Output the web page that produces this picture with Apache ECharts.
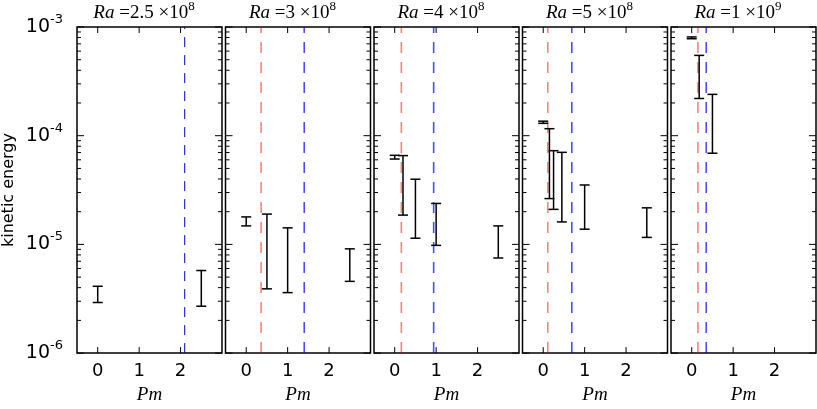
<!DOCTYPE html>
<html>
<head>
<meta charset="utf-8">
<script src="https://cdn.jsdelivr.net/npm/echarts@6/dist/echarts.min.js"></script>
<style>
html,body{margin:0;padding:0;background:#fff}
#main{width:817px;height:409px}
</style>
</head>
<body>
<div id="main"></div>
<script>
// panel titles: Ra = mant x 10^exp
var raMant = ['2.5', '3', '4', '5', '1'];
var raExp = ['8', '8', '8', '8', '9'];

// error bars per panel: [Pm, low, high]
var bars1 = [[0, 2.92e-6, 4.12e-6], [2.5, 2.7e-6, 5.75e-6]];
var bars2 = [[0, 1.48e-5, 1.79e-5], [0.5, 3.9e-6, 1.9e-5], [1, 3.6e-6, 1.42e-5], [2.5, 4.57e-6, 9.1e-6]];
var bars3 = [[0, 6.1e-5, 6.6e-5], [0.2, 1.86e-5, 6.56e-5], [0.5, 1.14e-5, 3.98e-5], [1, 9.8e-6, 2.38e-5], [2.5, 7.5e-6, 1.48e-5]];
var bars4 = [[0, 1.30e-4, 1.36e-4], [0.15, 2.64e-5, 1.16e-4], [0.25, 2.1e-5, 7.28e-5], [0.45, 1.61e-5, 7.03e-5], [1, 1.38e-5, 3.52e-5], [2.5, 1.16e-5, 2.17e-5]];
var bars5 = [[0, 7.8e-4, 8.1e-4], [0.18, 2.2e-4, 5.48e-4], [0.5, 6.9e-5, 2.4e-4]];
var allBars = [bars1, bars2, bars3, bars4, bars5];

// vertical dashed lines (Pm position), null = none
var redLines = [null, 0.36, 0.16, 0.11, 0.15];
var blueLines = [2.1, 1.40, 0.94, 0.69, 0.35];

// axis ticks
var xMin = -0.5, xMax = 3;
var xTicks = [0, 1, 2];
var yExps = [-6, -5, -4, -3];
var yMin = yExps[0], yMax = yExps[yExps.length - 1];

var minorTicks = [];
for (var e = yMin; e < yMax; e++) {
    for (var k = 2; k <= 9; k++) minorTicks.push(e + Math.log10(k));
}

// 刻度线数据: [x, y, 长度, 类型(0=y轴, 1=x轴)]
var tickData = [];
yExps.forEach(function (v) { tickData.push([xMin, v, 7, 0]); });
minorTicks.forEach(function (v) { tickData.push([xMin, v, 4, 0]); });
xTicks.forEach(function (v) { tickData.push([v, yMin, 6, 1]); });

var myChart = echarts.init(document.getElementById('main'));

//误差棒
function renderBar(params, api) {
    var x = api.value(0);
    var top = api.coord([x, api.value(2)]);
    var bot = api.coord([x, api.value(1)]);
    var w = 5;
    var st = {stroke: '#000', lineWidth: 1.5};
    return {
        type: 'group',
        children: [
            {type: 'line', shape: {x1: top[0], y1: top[1], x2: bot[0], y2: bot[1]}, style: st},
            {type: 'line', shape: {x1: top[0] - w, y1: top[1], x2: top[0] + w, y2: top[1]}, style: st},
            {type: 'line', shape: {x1: bot[0] - w, y1: bot[1], x2: bot[0] + w, y2: bot[1]}, style: st}
        ]
    };
}

//刻度线 (四边朝内)
function renderTick(params, api) {
    var len = api.value(2);
    var st = {stroke: '#000', lineWidth: 1};
    if (api.value(3) === 0) {
        var v = api.value(1);
        var pl = api.coord([xMin, v]), pr = api.coord([xMax, v]);
        return {type: 'group', children: [
            {type: 'line', shape: {x1: pl[0], y1: pl[1], x2: pl[0] + len, y2: pl[1]}, style: st},
            {type: 'line', shape: {x1: pr[0] - len, y1: pr[1], x2: pr[0], y2: pr[1]}, style: st}
        ]};
    }
    var u = api.value(0);
    var pb = api.coord([u, yMin]), pt = api.coord([u, yMax]);
    return {type: 'group', children: [
        {type: 'line', shape: {x1: pb[0], y1: pb[1], x2: pb[0], y2: pb[1] - len}, style: st},
        {type: 'line', shape: {x1: pt[0], y1: pt[1], x2: pt[0], y2: pt[1] + len}, style: st}
    ]};
}

var grids = [], xAxes = [], yAxes = [], titles = [], series = [];
var serif = 'Liberation Serif';
var noLine = {show: false, onZero: false};

for (var i = 0; i < 5; i++) {
    var left = 77 + i * 148.5;
    grids.push({left: left, top: 27, width: 145, height: 333, show: true,
        borderColor: '#000', borderWidth: 1.5});

    titles.push({
        text: '{i|Ra}{n| =' + raMant[i] + ' \u00d710}{s|' + raExp[i] + '}',
        left: left + 67, top: 0, textAlign: 'center', padding: 0,
        textStyle: {
            fontWeight: 'normal',
            rich: {
                i: {fontFamily: serif, fontStyle: 'italic', fontWeight: 'normal', fontSize: 19, lineHeight: 26, color: '#000'},
                n: {fontFamily: serif, fontWeight: 'normal', fontSize: 19, lineHeight: 26, color: '#000'},
                s: {fontFamily: serif, fontWeight: 'normal', fontSize: 13, lineHeight: 14, verticalAlign: 'top', color: '#000'}
            }
        }
    });

    xAxes.push({
        gridIndex: i, type: 'value', min: xMin, max: xMax, position: 'bottom',
        axisLine: noLine, splitLine: {show: false}, axisTick: {show: false},
        axisLabel: {customValues: xTicks, color: '#000', fontSize: 18, fontFamily: 'DejaVu Sans', margin: 9},
        name: 'Pm', nameLocation: 'middle', nameGap: 28,
        nameTextStyle: {fontFamily: serif, fontStyle: 'italic', fontSize: 19, color: '#000'}
    });

    var ax = {
        gridIndex: i, type: 'value', min: yMin, max: yMax, interval: 1,
        axisLine: noLine, splitLine: {show: false}, axisTick: {show: false},
        axisLabel: {show: false}
    };
    if (i === 0) {
        ax.axisLabel = {
            show: true, margin: 14,
            formatter: function (v) { return '{b|10}{s|' + v + '}'; },
            rich: {
                b: {fontFamily: 'DejaVu Sans', fontSize: 19, lineHeight: 28, color: '#000'},
                s: {fontFamily: 'DejaVu Sans', fontSize: 13, lineHeight: 14, verticalAlign: 'top', color: '#000'}
            }
        };
        ax.name = 'kinetic energy';
        ax.nameLocation = 'middle';
        ax.nameGap = 60;
        ax.nameRotate = 90;
        ax.nameTextStyle = {fontFamily: 'DejaVu Sans', fontSize: 16, color: '#000'};
    }
    yAxes.push(ax);

    var logData = allBars[i].map(function (b) {
        return [b[0], Math.log10(b[1]), Math.log10(b[2])];
    });

    series.push({
        type: 'custom', xAxisIndex: i, yAxisIndex: i, silent: true, clip: false,
        dimensions: ['x', 'y', 'len', 'kind'], encode: {x: 0, y: 1},
        renderItem: renderTick, data: tickData, z: 6
    });
    if (redLines[i] !== null) {
        series.push({
            type: 'line', xAxisIndex: i, yAxisIndex: i, showSymbol: false, silent: true,
            data: [[redLines[i], yMin], [redLines[i], yMax]],
            lineStyle: {color: '#ff0000', opacity: 0.5, width: 1.6, type: [11, 9]}
        });
    }
    series.push({
        type: 'line', xAxisIndex: i, yAxisIndex: i, showSymbol: false, silent: true,
        data: [[blueLines[i], yMin], [blueLines[i], yMax]],
        lineStyle: i === 0 ? {color: '#0000cc', width: 1, type: [10, 8]}
                           : {color: '#0000ff', opacity: 0.7, width: 1.6, type: [11, 9]}
    });
    series.push({
        type: 'custom', xAxisIndex: i, yAxisIndex: i,
        renderItem: renderBar, encode: {x: 0, y: [1, 2]},
        data: logData, z: 5
    });
}

var option = {
    animation: false,
    backgroundColor: '#fff',
    title: titles,
    grid: grids,
    xAxis: xAxes,
    yAxis: yAxes,
    series: series
};
myChart.setOption(option);
</script>
</body>
</html>
